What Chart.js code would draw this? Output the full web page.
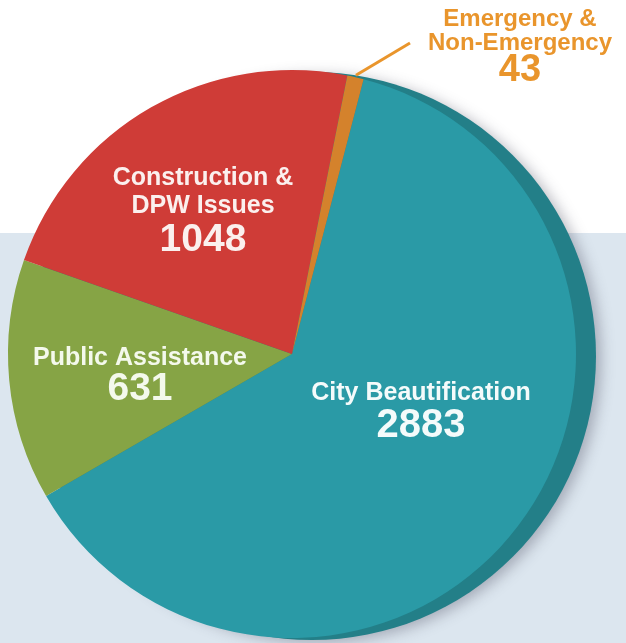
<!DOCTYPE html>
<html>
<head>
<meta charset="utf-8">
<script src="https://cdn.jsdelivr.net/npm/chart.js@4"></script>
<style>
  html, body { margin: 0; padding: 0; }
  body { width: 626px; height: 643px; overflow: hidden;
         background: linear-gradient(#ffffff 0 233px, #dce6ef 233px); }
  #wrap { position: relative; width: 626px; height: 643px; }
</style>
</head>
<body>
<div id="wrap"><canvas id="pieChart"></canvas></div>
<script>
// data
const categories = ["City Beautification", "Public Assistance", "Construction & DPW Issues", "Emergency & Non-Emergency"];
const counts = [2883, 631, 1048, 43];
const sliceColors = ["#2a9aa6", "#86a445", "#cf3c37", "#d4822c"];

// label lines for each slice (text only, positions in the plugin below)
const labelLines = [
    ["City Beautification"],
    ["Public Assistance"],
    ["Construction &", "DPW Issues"],
    ["Emergency &", "Non-Emergency"]
];

const ctx = document.getElementById("pieChart").getContext("2d");

// darker rim behind the pie to get the 3d look
const rimPlugin = {
    id: "rim",
    beforeDatasetsDraw(chart) {
        const arc = chart.getDatasetMeta(0).data[0];
        if (!arc) return;
        const c = chart.ctx;
        c.save();
        c.shadowColor = "rgba(60,60,80,0.35)";
        c.shadowBlur = 14;
        c.shadowOffsetX = 5;
        c.shadowOffsetY = 3;
        c.fillStyle = "#237f88";
        c.beginPath();
        c.arc(arc.x + 20, arc.y + 2, arc.outerRadius, 0, Math.PI * 2);
        c.fill();
        c.restore();
    }
};

// slice labels
const labelPlugin = {
    id: "sliceLabels",
    afterDatasetsDraw(chart) {
        const meta = chart.getDatasetMeta(0);
        const c = chart.ctx;
        const cx = meta.data[0].x, cy = meta.data[0].y, r = meta.data[0].outerRadius;
        // offsets relative to pie centre
        const spots = [
            { dx: 129, dy: 39, size: 25, num: 40, gap: 28, numGap: 33, color: "#f4fbfb" },
            { dx: -152, dy: 4, size: 25, num: 39, gap: 28, numGap: 31, color: "#f4f9ec" },
            { dx: -89, dy: -176, size: 25, num: 39, gap: 28, numGap: 34, color: "#fbf0ee" },
            { dx: 228, dy: -335, size: 24, num: 38, gap: 24, numGap: 28, color: "#e9952c" }
        ];
        c.save();
        c.textAlign = "center";
        c.textBaseline = "middle";
        spots.forEach((s, i) => {
            const x = cx + s.dx, y = cy + s.dy;
            c.fillStyle = s.color;
            c.font = "bold " + s.size + "px 'Liberation Sans', Arial, sans-serif";
            const lines = labelLines[i];
            lines.forEach((t, j) => {
                c.fillText(t, x, y + j * s.gap);
            });
            c.font = "bold " + s.num + "px 'Liberation Sans', Arial, sans-serif";
            c.fillText(String(counts[i]), x, y + (lines.length - 1) * s.gap + s.numGap);
        });
        // leader line for the small slice
        const el = meta.data[3];
        const mid = (el.startAngle + el.endAngle) / 2;
        c.strokeStyle = "#e9952c";
        c.lineWidth = 3;
        c.beginPath();
        c.moveTo(cx + Math.cos(mid) * (r + 2), cy + Math.sin(mid) * (r + 2));
        c.lineTo(cx + 118, cy - 311);
        c.stroke();
        c.restore();
    }
};

new Chart(ctx, {
    type: "pie",
    data: {
        labels: categories,
        datasets: [
            {
                data: counts,
                backgroundColor: sliceColors,
                borderWidth: 0,
            },
        ],
    },
    options: {
        responsive: true,
        maintainAspectRatio: false,
        animation: false,
        rotation: 14.6,
        layout: {
            padding: { left: 8, right: 50, top: 70, bottom: 5 },
        },
        plugins: {
            legend: { display: false },
            tooltip: { enabled: false },
        },
    },
    plugins: [rimPlugin, labelPlugin],
});
</script>
</body>
</html>
